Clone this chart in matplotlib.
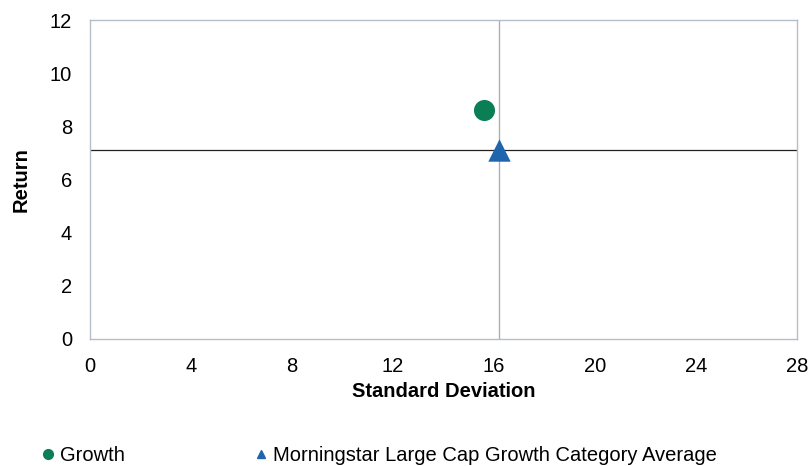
import matplotlib
matplotlib.use("Agg")
import matplotlib.pyplot as plt
from matplotlib.lines import Line2D

plt.rcParams['font.family'] = ['Liberation Sans', 'DejaVu Sans']

# risk / return points
names = ["Growth", "Morningstar Large Cap Growth Category Average"]
std_dev = [15.6, 16.2]
returns = [8.6, 7.1]
markers = ["o", "^"]
colors = ["#0b7e55", "#1f64ad"]

x_ticks = [0, 4, 8, 12, 16, 20, 24, 28]
y_ticks = [0, 2, 4, 6, 8, 10, 12]

fs = 14.5

fig = plt.figure(figsize=(8.09, 4.66), dpi=100)
ax = fig.add_axes([90 / 809, 1 - 339 / 466, (797 - 90) / 809, (339 - 20) / 466])

# quadrant lines through the category average
ax.axvline(std_dev[1], color="#a7b1bb", lw=1.0, zorder=1)
ax.axhline(returns[1], color="#222222", lw=0.9, zorder=1)

for sx, ry, m, c in zip(std_dev, returns, markers, colors):
    ax.scatter(sx, ry, marker=m, s=230 if m == "o" else 260, color=c, zorder=3, linewidths=0)

ax.set_xlim(0, 28)
ax.set_ylim(0, 12)
ax.set_xticks(x_ticks)
ax.set_yticks(y_ticks)
ax.tick_params(axis="x", length=0, labelsize=fs, pad=13)
ax.tick_params(axis="y", length=0, labelsize=fs, pad=13)
for s in ax.spines.values():
    s.set_color("#b4bec8")
    s.set_linewidth(1.0)

ax.set_xlabel("Standard Deviation", fontsize=fs, fontweight="bold", labelpad=4)
ax.set_ylabel("Return", fontsize=fs, fontweight="bold", labelpad=14)

handles = [Line2D([], [], marker=m, color=c, linestyle="none", markersize=7 if m == "o" else 6)
           for m, c in zip(markers, colors)]
fig.legend(handles, names, loc="lower left", bbox_to_anchor=(40 / 809, 0.003), ncol=2,
           frameon=False, fontsize=fs, handletextpad=0.2, columnspacing=6.35,
           handlelength=0.8, borderpad=0, borderaxespad=0.0)

fig.savefig("out.png", dpi=100)
